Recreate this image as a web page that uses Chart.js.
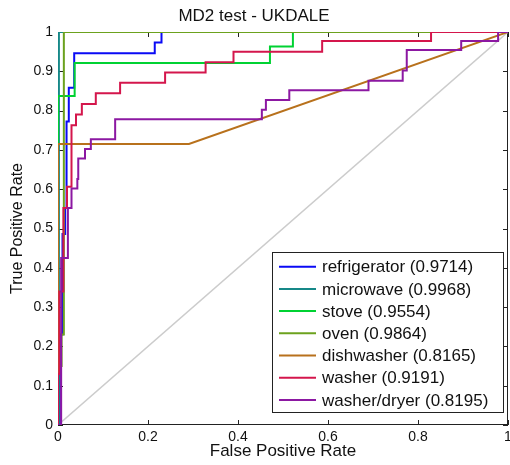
<!DOCTYPE html>
<html>
<head>
<meta charset="utf-8">
<title>MD2 test - UKDALE</title>
<script src="https://cdn.jsdelivr.net/npm/chart.js@4.4.0/dist/chart.umd.min.js"></script>
<style>
    html, body { margin: 0; padding: 0; background: #fff; }
    canvas { display: block; }
</style>
</head>
<body>
<canvas id="rocChart" width="510" height="465"></canvas>
<script>
// Appliance names and AUC values (legend order)
var appliances = ['refrigerator', 'microwave', 'stove', 'oven', 'dishwasher', 'washer', 'washer/dryer'];
var aucValues = ['0.9714', '0.9968', '0.9554', '0.9864', '0.8165', '0.9191', '0.8195'];

// ROC points (step curves: each point is the top of a vertical step)
var refrigeratorFpr = [0, 0.004, 0.010, 0.016, 0.019, 0.024, 0.036, 0.215, 0.23, 1];
var refrigeratorTpr = [0, 0.23, 0.486, 0.552, 0.772, 0.858, 0.946, 0.973, 1, 1];

var microwaveFpr = [0, 0.002, 1];
var microwaveTpr = [0, 1, 1];

var stoveFpr = [0, 0, 0.037, 0.471, 0.522, 1];
var stoveTpr = [0, 0.837, 0.921, 0.963, 1, 1];

var ovenFpr = [0, 0, 0.008, 0.013, 1];
var ovenTpr = [0, 0.15, 0.23, 1, 1];

// dishwasher is drawn with straight segments
var dishwasherFpr = [0, 0, 0.291, 1];
var dishwasherTpr = [0, 0.715, 0.715, 1];

var washerFpr = [0, 0, 0.003, 0.012, 0.02, 0.03, 0.04, 0.053, 0.084, 0.138, 0.238, 0.328, 0.39, 0.587, 0.829, 1];
var washerTpr = [0, 0.13, 0.34, 0.552, 0.606, 0.763, 0.79, 0.817, 0.844, 0.871, 0.897, 0.923, 0.95, 0.977, 1, 1];

var washerDryerFpr = [0, 0.007, 0.022, 0.03, 0.043, 0.045, 0.06, 0.073, 0.127, 0.453, 0.462, 0.514, 0.69, 0.766, 0.775, 0.896, 0.978, 1];
var washerDryerTpr = [0, 0.425, 0.552, 0.602, 0.626, 0.678, 0.702, 0.727, 0.778, 0.802, 0.827, 0.852, 0.876, 0.902, 0.954, 0.977, 1, 1];

// chance line
var chanceFpr = [0, 1];
var chanceTpr = [0, 1];

var xTicks = [0, 0.2, 0.4, 0.6, 0.8, 1];
var yTicks = [0, 0.1, 0.2, 0.3, 0.4, 0.5, 0.6, 0.7, 0.8, 0.9, 1];

var colors = ['#0a0af5', '#168888', '#00d232', '#6ca21e', '#b8711c', '#d4164c', '#8c18a2'];
var fontFamily = '"Liberation Sans", Arial, sans-serif';

function toPoints(fpr, tpr) {
    return fpr.map(function (x, i) { return { x: x, y: tpr[i] }; });
}

var curves = [
    [refrigeratorFpr, refrigeratorTpr],
    [microwaveFpr, microwaveTpr],
    [stoveFpr, stoveTpr],
    [ovenFpr, ovenTpr],
    [dishwasherFpr, dishwasherTpr],
    [washerFpr, washerTpr],
    [washerDryerFpr, washerDryerTpr]
];

var datasets = curves.map(function (c, i) {
    return {
        label: appliances[i] + ' (' + aucValues[i] + ')',
        data: toPoints(c[0], c[1]),
        borderColor: colors[i],
        borderWidth: 2,
        stepped: appliances[i] === 'dishwasher' ? false : 'before',
        order: curves.length - i   // later series on top, like the original plot
    };
});
datasets.push({
    label: 'chance',
    data: toPoints(chanceFpr, chanceTpr),
    borderColor: '#cccccc',
    borderWidth: 1.5,
    order: 20,
    isChance: true
});

// Box and inward ticks round the plot area
var frameAndTicks = {
    id: 'frameAndTicks',
    beforeDatasetsDraw: function (chart) {
        var ctx = chart.ctx;
        var a = chart.chartArea;
        var xs = chart.scales.x, ys = chart.scales.y;
        ctx.save();
        ctx.strokeStyle = '#222';
        ctx.lineWidth = 1;
        ctx.strokeRect(a.left + 0.5, a.top + 0.5, a.right - a.left - 1, a.bottom - a.top - 1);
        ctx.beginPath();
        xTicks.forEach(function (v) {
            var px = Math.round(xs.getPixelForValue(v)) + 0.5;
            ctx.moveTo(px, a.bottom); ctx.lineTo(px, a.bottom - 5);
            ctx.moveTo(px, a.top); ctx.lineTo(px, a.top + 5);
        });
        yTicks.forEach(function (v) {
            var py = Math.round(ys.getPixelForValue(v)) + 0.5;
            ctx.moveTo(a.left, py); ctx.lineTo(a.left + 5, py);
            ctx.moveTo(a.right, py); ctx.lineTo(a.right - 5, py);
        });
        ctx.stroke();
        ctx.restore();
    }
};

// Legend box inside the plot, bottom right
var boxLegend = {
    id: 'boxLegend',
    afterDraw: function (chart) {
        var ctx = chart.ctx;
        var left = 272.5, top = 252.5, width = 231, height = 160;
        var rowH = 22.2, firstRow = 266.7;
        ctx.save();
        ctx.fillStyle = '#fff';
        ctx.fillRect(left, top, width, height);
        ctx.strokeStyle = '#222';
        ctx.lineWidth = 1;
        ctx.strokeRect(left, top, width, height);
        ctx.font = '17px ' + fontFamily;
        ctx.textBaseline = 'middle';
        chart.data.datasets.forEach(function (ds, i) {
            if (ds.isChance) return;
            var y = firstRow + i * rowH;
            ctx.strokeStyle = ds.borderColor;
            ctx.lineWidth = 2;
            ctx.beginPath();
            ctx.moveTo(279, y);
            ctx.lineTo(316, y);
            ctx.stroke();
            ctx.fillStyle = '#111';
            ctx.fillText(ds.label, 322, y + 1);
        });
        ctx.restore();
    }
};

var rocChart = new Chart(document.getElementById('rocChart').getContext('2d'), {
    type: 'scatter',
    data: { datasets: datasets },
    options: {
        responsive: false,
        animation: false,
        devicePixelRatio: 1,
        showLine: true,
        layout: { padding: { left: 0, right: 2, top: 0, bottom: 0 } },
        elements: { point: { radius: 0, hoverRadius: 0 }, line: { tension: 0 } },
        plugins: {
            legend: { display: false },
            tooltip: { enabled: false },
            title: {
                display: true,
                text: 'MD2 test - UKDALE',
                color: '#111',
                font: { family: fontFamily, size: 17, weight: 'normal' },
                padding: { top: 6, bottom: 5.6 }
            }
        },
        scales: {
            x: {
                type: 'linear',
                min: 0,
                max: 1,
                afterBuildTicks: function (scale) {
                    scale.ticks = xTicks.map(function (v) { return { value: v }; });
                },
                afterFit: function (scale) {
                    scale.height = 40;
                    scale.paddingLeft = 0;
                    scale.paddingRight = 0;
                },
                grid: { display: false, drawTicks: false },
                border: { display: false },
                ticks: {
                    autoSkip: false,
                    maxRotation: 0,
                    padding: 4,
                    color: '#111',
                    font: { family: fontFamily, size: 14 },
                    callback: function (v) { return String(+v.toFixed(1)); }
                },
                title: {
                    display: true,
                    text: 'False Positive Rate',
                    color: '#111',
                    font: { family: fontFamily, size: 17 },
                    padding: { top: 0, bottom: 3 }
                }
            },
            y: {
                type: 'linear',
                min: 0,
                max: 1,
                afterBuildTicks: function (scale) {
                    scale.ticks = yTicks.map(function (v) { return { value: v }; });
                },
                afterFit: function (scale) {
                    scale.width = 58;
                    scale.paddingTop = 0;
                    scale.paddingBottom = 0;
                },
                grid: { display: false, drawTicks: false },
                border: { display: false },
                ticks: {
                    autoSkip: false,
                    padding: 5,
                    color: '#111',
                    font: { family: fontFamily, size: 14 },
                    callback: function (v) { return String(+v.toFixed(1)); }
                },
                title: {
                    display: true,
                    text: 'True Positive Rate',
                    color: '#111',
                    font: { family: fontFamily, size: 16 },
                    padding: { top: 8, bottom: 0 }
                }
            }
        }
    },
    plugins: [frameAndTicks, boxLegend]
});
</script>
</body>
</html>
